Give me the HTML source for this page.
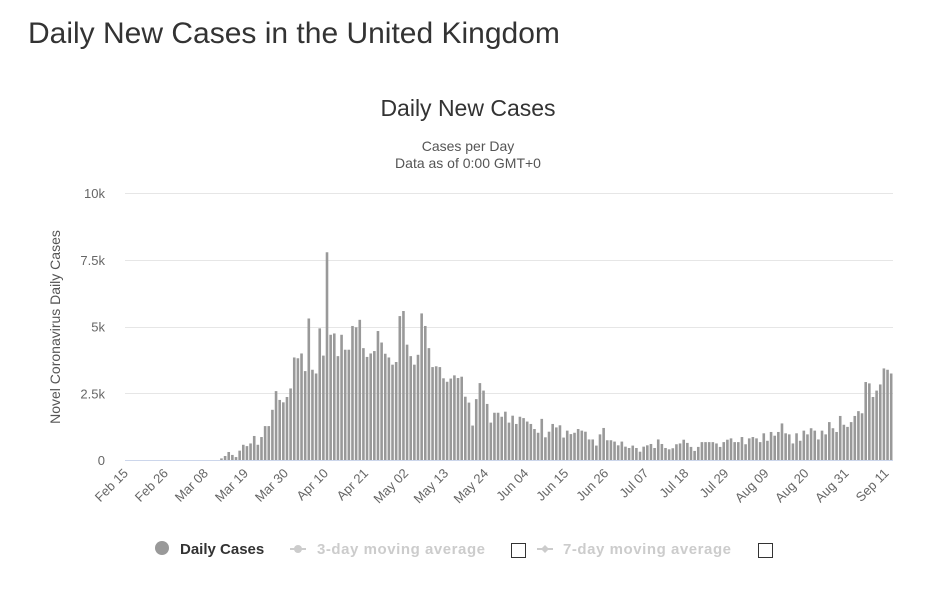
<!DOCTYPE html>
<html><head><meta charset="utf-8"><style>
body{margin:0;background:#fff;font-family:"Liberation Sans",sans-serif;}
svg text{font-family:"Liberation Sans",sans-serif;}
</style></head><body>
<svg width="949" height="608" xmlns="http://www.w3.org/2000/svg">
<text x="28" y="43" font-size="30" fill="#333">Daily New Cases in the United Kingdom</text>
<text x="468" y="116" font-size="23" fill="#333" text-anchor="middle">Daily New Cases</text>
<text x="468" y="151" font-size="14" fill="#555" text-anchor="middle">Cases per Day</text>
<text x="468" y="168" font-size="14" fill="#555" text-anchor="middle">Data as of 0:00 GMT+0</text>
<text transform="translate(60,327) rotate(-90)" font-size="14" fill="#555" text-anchor="middle">Novel Coronavirus Daily Cases</text>
<g id="grid"></g><g id="ylabels"></g><g id="bars"></g><g id="xlabels"></g>
<line x1="125" y1="460.5" x2="893" y2="460.5" stroke="#ccd6eb"/>
<g>
<g>
<circle cx="162" cy="548" r="7" fill="#999"/>
<text x="180" y="554" font-size="15" font-weight="bold" fill="#333">Daily Cases</text></g>
<g>
<line x1="290" y1="549" x2="306" y2="549" stroke="#ccc" stroke-width="2"/><circle cx="298" cy="549" r="4" fill="#ccc"/>
<text x="317" y="554" font-size="15" font-weight="bold" fill="#ccc" textLength="168">3-day moving average</text></g>
<rect x="511.5" y="543.5" width="14" height="14" fill="#fff" stroke="#333"/>
<g>
<line x1="537" y1="549" x2="553" y2="549" stroke="#ccc" stroke-width="2"/><path d="M545 545 L549 549 L545 553 L541 549Z" fill="#ccc"/>
<text x="563" y="554" font-size="15" font-weight="bold" fill="#ccc" textLength="168">7-day moving average</text></g>
<rect x="758.5" y="543.5" width="14" height="14" fill="#fff" stroke="#333"/>
</g>
</svg>
<script>
const yTicks=[0,2500,5000,7500,10000];
const yTickLabels=["0","2.5k","5k","7.5k","10k"];
const xTickLabels=["Feb 15","Feb 26","Mar 08","Mar 19","Mar 30","Apr 10","Apr 21","May 02","May 13","May 24","Jun 04","Jun 15","Jun 26","Jul 07","Jul 18","Jul 29","Aug 09","Aug 20","Aug 31","Sep 11"];
const dailyCases=[0,0,0,0,0,0,0,0,0,0,0,0,0,0,0,0,0,0,0,0,0,0,0,0,0,0,
60,150,300,190,110,350,570,520,620,900,570,860,1270,1270,1880,2580,2250,2160,2360,2680,
3840,3810,3990,3330,5300,3380,3240,4930,3910,7780,4690,4740,3890,4690,4130,4130,5020,4970,5250,4190,
3860,3990,4080,4830,4400,3980,3840,3570,3670,5390,5580,4320,3890,3570,3940,5490,5020,4190,3480,3510,
3480,3060,2930,3050,
3170,3070,3120,2370,2150,1290,2280,2880,2600,2100,1400,1770,1770,1620,1810,1400,1660,1350,1620,1570,
1440,1350,1160,1020,1540,850,1060,1350,1220,1300,840,1100,970,1020,1160,1100,1060,770,770,540,
960,1200,740,740,690,550,690,500,450,540,450,310,500,550,600,450,770,600,450,400,
440,590,620,760,640,490,340,490,670,670,670,670,620,490,670,760,810,670,670,860,
590,810,860,810,670,1000,720,1050,910,1050,1370,1000,960,620,1000,720,1100,960,1190,1100,
770,1100,960,1420,1190,1050,1650,1320,1240,1420,1650,1830,1750,2920,2870,2360,2600,2830,3430,3380,3240];
const NS="http://www.w3.org/2000/svg";
const X0=125,X1=893,Y0=460,Y1=193,YMAX=10000;
const n=dailyCases.length,band=(X1-X0)/n;
function yScale(v){return Y0-(v/YMAX)*(Y0-Y1);}
function xScale(i){return X0+band*(i+0.5);}
function mk(t,a,p){const e=document.createElementNS(NS,t);for(const k in a)e.setAttribute(k,a[k]);p.appendChild(e);return e;}
const grid=document.getElementById('grid'),yl=document.getElementById('ylabels');
yTicks.forEach((v,i)=>{
 if(v>0){const l=mk('line',{x1:X0,x2:X1,y1:Math.round(yScale(v))+0.5,y2:Math.round(yScale(v))+0.5,stroke:'#e6e6e6'},grid);
 
 }
 const t=mk('text',{x:105,y:yScale(v)+5,'text-anchor':'end','font-size':13,fill:'#666'},yl);
 t.textContent=yTickLabels[i];
 
 
});
const bars=document.getElementById('bars');
dailyCases.forEach((v,i)=>{
 const y=yScale(v);
 const r=mk('rect',{x:xScale(i)-1.3,y:y,width:2.6,height:Math.max(0,Y0-y),fill:'#999'},bars);
 
 
});
const xl=document.getElementById('xlabels');
xTickLabels.forEach((s,k)=>{
 const i=k*11;const x=xScale(i)+2;
 const t=mk('text',{transform:`translate(${x},474) rotate(-45)`,'text-anchor':'end','font-size':13,fill:'#666'},xl);
 t.textContent=s;
 
 
});
</script>
</body></html>
